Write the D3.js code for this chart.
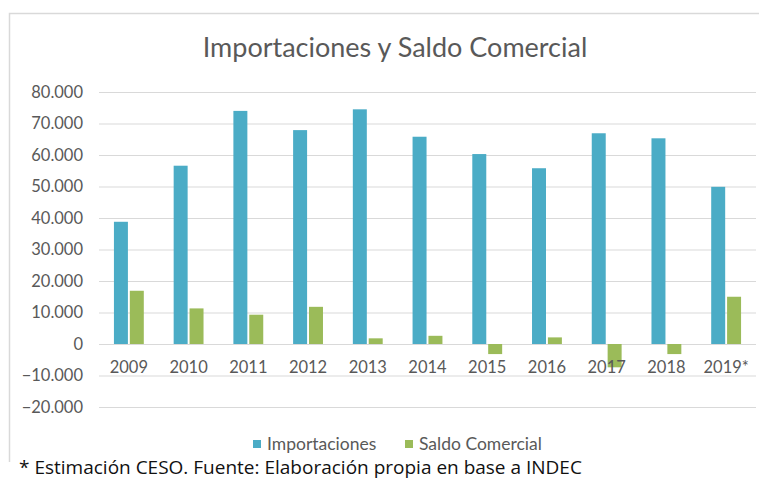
<!DOCTYPE html>
<html>
<head>
<meta charset="utf-8">
<script src="https://cdn.jsdelivr.net/npm/d3@7"></script>
<style>
  html, body { margin: 0; padding: 0; background: #fff; }
  svg { display: block; }
</style>
</head>
<body>
<svg id="chart" width="759" height="480"></svg>
<script>
const years = ["2009", "2010", "2011", "2012", "2013", "2014", "2015", "2016", "2017", "2018", "2019*"]
const importaciones = [38800, 56600, 74000, 67900, 74500, 65800, 60300, 55800, 66900, 65300, 49900]
const saldoComercial = [16900, 11300, 9300, 11800, 1800, 2600, -3200, 2100, -7400, -3200, 15000]
const seriesNames = ["Importaciones", "Saldo Comercial"]
const seriesColors = ["#4bacc6", "#9bbb59"]
const yTicks = [-20000, -10000, 0, 10000, 20000, 30000, 40000, 50000, 60000, 70000, 80000]
const title = "Importaciones y Saldo Comercial"
const footnote = "* Estimación CESO. Fuente: Elaboración propia en base a INDEC"

const svg = d3.select("#chart")
const W = 759, H = 480
const m = {top: 92, right: 3, bottom: 73, left: 99}
const iw = W - m.left - m.right
const ih = H - m.top - m.bottom
const font = "Lato, 'Open Sans', sans-serif"

const rows = years.map((yr, i) => ({year: yr, values: [importaciones[i], saldoComercial[i]]}))

// chart frame (right/bottom edges are cut off in the picture)
svg.append("path")
  .attr("d", `M9.5,462 V13.5 H${W}`)
  .attr("fill", "none")
  .attr("stroke", "#d9d9d9")
  .attr("stroke-width", 1.5)

svg.append("text")
  .attr("x", 395)
  .attr("y", 57)
  .attr("text-anchor", "middle")
  .attr("font-family", font)
  .attr("font-size", 27)
  .attr("fill", "#595959")
  .text(title)

const y = d3.scaleLinear().domain([-20000, 80000]).range([ih, 0])
const x0 = d3.scaleBand().domain(years).range([0, iw]).paddingInner(0.5).paddingOuter(0.25)
const x1 = d3.scaleBand().domain(d3.range(seriesNames.length)).range([0, x0.bandwidth()]).paddingInner(0.12)

const g = svg.append("g").attr("transform", `translate(${m.left},${m.top})`)

const fmt = (v) => (v === 0 ? "0" : d3.format(",")(v).replace(/,/g, "."))

g.append("g")
  .call(d3.axisLeft(y).tickValues(yTicks).tickSize(-iw).tickFormat(fmt).tickPadding(16))
  .call((gg) => gg.select(".domain").remove())
  .call((gg) => gg.selectAll("line").attr("stroke", "#d9d9d9").attr("stroke-width", 1))
  .call((gg) =>
    gg.selectAll("text")
      .attr("font-family", font)
      .attr("font-size", 16.5)
      .attr("fill", "#595959")
  )

const groups = g.append("g")
  .selectAll("g")
  .data(rows)
  .join("g")
  .attr("transform", (d) => `translate(${x0(d.year)},0)`)

groups.selectAll("rect")
  .data((d) => d.values.map((v, i) => ({v, i})))
  .join("rect")
  .attr("x", (d) => x1(d.i))
  .attr("width", x1.bandwidth())
  .attr("y", (d) => y(Math.max(0, d.v)))
  .attr("height", (d) => Math.abs(y(d.v) - y(0)))
  .attr("fill", (d) => seriesColors[d.i])

g.append("g")
  .attr("transform", `translate(0,${y(0)})`)
  .call(d3.axisBottom(x0).tickSize(0).tickPadding(17))
  .call((gg) => gg.select(".domain").remove())
  .call((gg) =>
    gg.selectAll("text")
      .attr("font-family", font)
      .attr("font-size", 16.5)
      .attr("fill", "#595959")
  )

// legend
const legend = svg.append("g").attr("transform", "translate(253,444)")
const legendX = [0, 152]
seriesNames.forEach((name, i) => {
  const lg = legend.append("g").attr("transform", `translate(${legendX[i]},0)`)
  lg.append("rect").attr("x", 0).attr("y", -4).attr("width", 8).attr("height", 8).attr("fill", seriesColors[i])
  lg.append("text")
    .attr("x", 14)
    .attr("y", 0)
    .attr("dy", "0.35em")
    .attr("font-family", font)
    .attr("font-size", 17.5)
    .attr("fill", "#595959")
    .text(name)
})

svg.append("text")
  .attr("x", 19)
  .attr("y", 474)
  .attr("font-family", "'Open Sans', sans-serif")
  .attr("font-size", 19)
  .attr("fill", "#111")
  .text(footnote)
</script>
</body>
</html>
